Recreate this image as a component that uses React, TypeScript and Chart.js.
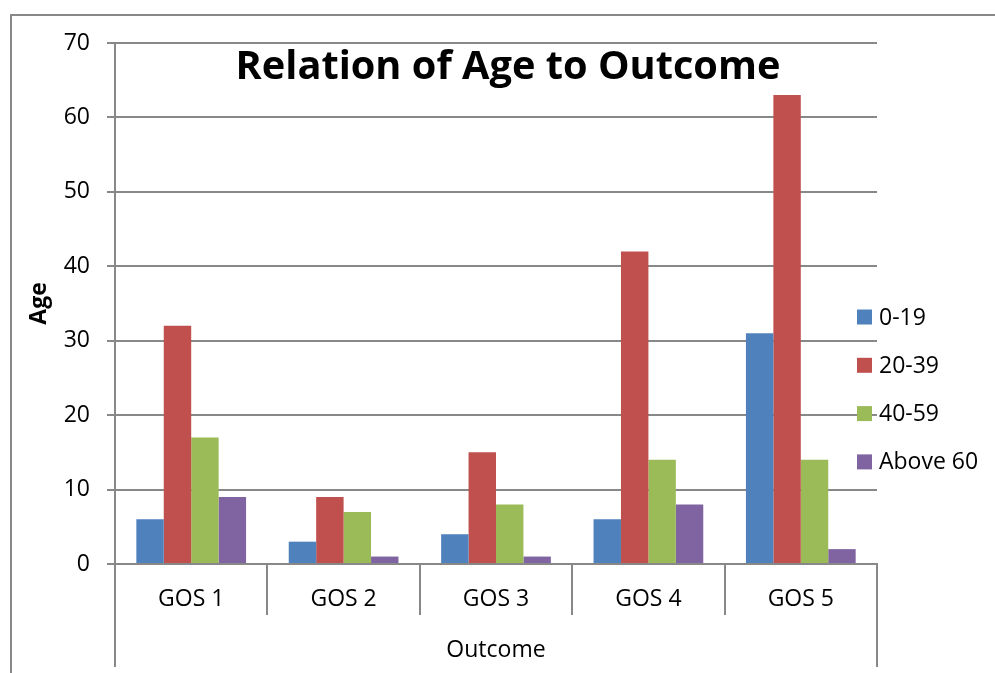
import React, { useEffect, useRef } from "react";
import { Chart, registerables } from "chart.js";

Chart.register(...registerables);

const categories = ["GOS 1", "GOS 2", "GOS 3", "GOS 4", "GOS 5"];
const seriesNames = ["0-19", "20-39", "40-59", "Above 60"];
const age0to19 = [6, 3, 4, 6, 31];
const age20to39 = [32, 9, 15, 42, 63];
const age40to59 = [17, 7, 8, 14, 14];
const ageAbove60 = [9, 1, 1, 8, 2];
const seriesColors = ["#4F81BD", "#C0504D", "#9BBB59", "#8064A2"];
const chartTitle = "Relation of Age to Outcome";
const yTitle = "Age";
const xTitle = "Outcome";

const FONT = "'Open Sans', 'Noto Sans', sans-serif";
const GRID = "#888888";
const FS = 23;

const decorPlugin = {
  id: "decor",
  beforeDraw(chart: any) {
    const ctx = chart.ctx;
    ctx.save();
    ctx.strokeStyle = GRID;
    ctx.lineWidth = 2;
    ctx.beginPath();
    ctx.moveTo(11, chart.height + 5);
    ctx.lineTo(11, 15);
    ctx.lineTo(chart.width + 5, 15);
    ctx.stroke();
    ctx.restore();
  },
  afterDraw(chart: any) {
    const ctx = chart.ctx;
    const area = chart.chartArea;
    const n = categories.length;
    const step = (area.right - area.left) / n;
    ctx.save();
    ctx.strokeStyle = GRID;
    ctx.lineWidth = 2;
    for (let i = 0; i <= n; i++) {
      const x = Math.round(area.left + i * step);
      const end = i === 0 || i === n ? 667 : area.bottom + 51;
      ctx.beginPath();
      ctx.moveTo(x, area.bottom);
      ctx.lineTo(x, end);
      ctx.stroke();
    }
    ctx.fillStyle = "#000";
    let size = 40;
    ctx.font = `bold ${size}px ${FONT}`;
    const w = ctx.measureText(chartTitle).width;
    size = size * (545 / w);
    ctx.font = `bold ${size}px ${FONT}`;
    ctx.textAlign = "center";
    ctx.textBaseline = "alphabetic";
    ctx.fillText(chartTitle, 508, 79);
    ctx.font = `${FS}px ${FONT}`;
    ctx.textAlign = "left";
    ctx.textBaseline = "middle";
    const ds = chart.data.datasets;
    for (let i = 0; i < ds.length; i++) {
      const cy = 317 + i * 48.3;
      ctx.fillStyle = ds[i].backgroundColor;
      ctx.fillRect(area.right - 20, cy - 7.5, 15, 15);
      ctx.fillStyle = "#000";
      ctx.fillText(ds[i].label, area.right + 2, cy + 1);
    }
    ctx.restore();
  },
};

export default function App() {
  const ref = useRef<HTMLCanvasElement>(null);
  useEffect(() => {
    const values = [age0to19, age20to39, age40to59, ageAbove60];
    const chart = new Chart(ref.current as HTMLCanvasElement, {
      type: "bar",
      data: {
        labels: categories,
        datasets: seriesNames.map((name, i) => ({
          label: name,
          data: values[i],
          backgroundColor: seriesColors[i],
          borderWidth: 0,
          barPercentage: 1,
          categoryPercentage: 0.72,
        })),
      },
      options: {
        animation: false,
        responsive: true,
        maintainAspectRatio: false,
        layout: { padding: { left: 10, top: 43, right: 118, bottom: 0 } },
        plugins: { legend: { display: false }, title: { display: false }, tooltip: { enabled: false } },
        scales: {
          x: {
            afterFit: (s: any) => {
              s.height = 109;
            },
            grid: { display: false, drawTicks: false },
            border: { display: true, color: GRID, width: 2 },
            ticks: { color: "#000", font: { family: FONT, size: FS }, padding: 22, maxRotation: 0 },
            title: { display: true, text: xTitle, color: "#000", font: { family: FONT, size: FS }, padding: { top: 0, bottom: 9 } },
          },
          y: {
            min: 0,
            max: 70,
            afterFit: (s: any) => {
              s.width = 105;
            },
            grid: { color: GRID, lineWidth: 2, tickLength: 8, drawTicks: true },
            border: { display: true, color: GRID, width: 2 },
            ticks: { stepSize: 10, color: "#000", font: { family: FONT, size: FS }, padding: 17 },
            title: { display: true, text: yTitle, color: "#000", font: { family: FONT, size: FS, weight: "bold" }, padding: { top: 16, bottom: 0 } },
          },
        },
      },
      plugins: [decorPlugin],
    });
    return () => chart.destroy();
  }, []);
  return (
    <div style={{ position: "fixed", left: 0, top: 0, width: 995, height: 673, background: "#fff" }}>
      <canvas ref={ref} />
    </div>
  );
}
